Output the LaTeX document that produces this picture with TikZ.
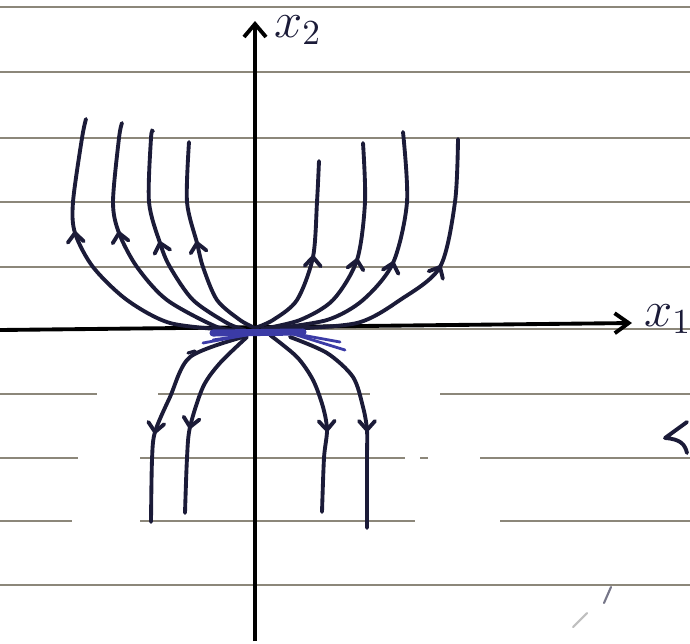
\documentclass[tikz,border=0pt]{standalone}
\usepackage{amsmath,amssymb}
\usepackage{tikz}
\usetikzlibrary{arrows.meta}

\definecolor{tinta}{HTML}{1B1B38}
\definecolor{azul}{HTML}{3B3BA6}
\definecolor{pauta}{HTML}{8C877A}

\begin{document}
\begin{tikzpicture}[
  curva/.style={tinta,line width=1.1pt,line cap=round},
  seta/.style={tinta,line width=1.1pt,line cap=round,line join=round},
  linha/.style={pauta,line width=0.7pt},
  eixo/.style={black,line width=1.1pt}
]
\useasboundingbox (-2.55,-3.14) rectangle (4.35,3.29);
\fill[white] (-2.55,-3.14) rectangle (4.35,3.29);

% pauta do caderno
\foreach \y in {3.22,2.57,1.91,1.27,0.62,0.0,-2.56}
{
    \draw[linha] (-2.55,\y) -- (4.35,\y);
}

% pauta interrompida (parte de baixo)
\draw[linha] (-2.55,-0.65) -- (-1.58,-0.65) (-0.97,-0.65) -- (1.15,-0.65) (1.85,-0.65) -- (4.35,-0.65);
\draw[linha] (-2.55,-1.29) -- (-1.77,-1.29) (-1.15,-1.29) -- (1.50,-1.29) (1.65,-1.29) -- (1.73,-1.29) (2.25,-1.29) -- (4.35,-1.29);
\draw[linha] (-2.55,-1.92) -- (-1.83,-1.92) (-1.15,-1.92) -- (1.60,-1.92) (2.45,-1.92) -- (4.35,-1.92);

% eixos
\draw[eixo,-{Straight Barb[length=1.3mm,width=2.2mm]}] (0,-3.12) -- (0,3.08);
\draw[eixo,-{Straight Barb[length=1.4mm,width=2mm]}] (-2.55,-0.01) -- (3.77,0.06);
\node[tinta] (lx2) at (0.43,2.99) {\Large $x_2$};
\node[tinta] (lx1) at (4.13,0.10) {\Large $x_1$};

% trajetorias de cima, lado esquerdo
\draw[curva] plot[smooth] coordinates {(-1.69,2.10) (-1.73,1.91) (-1.82,1.27) (-1.80,0.96) (-1.62,0.62) (-1.28,0.29) (-0.85,0.06) (-0.25,-0.01)};
\draw[curva] plot[smooth] coordinates {(-1.33,2.06) (-1.36,1.91) (-1.42,1.27) (-1.36,0.96) (-1.18,0.62) (-0.88,0.29) (-0.38,0.02) (-0.15,-0.01)};
\draw[curva] plot[smooth] coordinates {(-1.02,1.98) (-1.04,1.91) (-1.06,1.27) (-0.95,0.86) (-0.85,0.62) (-0.62,0.29) (-0.28,0.06) (-0.10,-0.01)};
\draw[curva] plot[smooth] coordinates {(-0.66,1.87) (-0.68,1.27) (-0.58,0.86) (-0.52,0.62) (-0.38,0.29) (-0.15,0.09) (0,0.01)};

% trajetorias de cima, lado direito
\draw[curva] plot[smooth] coordinates {(0.64,1.68) (0.62,1.27) (0.58,0.72) (0.42,0.29) (0.18,0.09) (0,0.01)};
\draw[curva] plot[smooth] coordinates {(1.08,1.86) (1.10,1.27) (1.02,0.69) (0.78,0.29) (0.45,0.09) (0.07,0)};
\draw[curva] plot[smooth] coordinates {(1.48,1.97) (1.52,1.27) (1.38,0.66) (1.08,0.29) (0.72,0.09) (0.15,0)};
\draw[curva] plot[smooth] coordinates {(2.03,1.90) (2.00,1.27) (1.85,0.62) (1.45,0.29) (1.02,0.06) (0.30,0)};

% trajetorias de baixo
\draw[curva] plot[smooth] coordinates {(-0.12,-0.08) (-0.65,-0.28) (-0.85,-0.68) (-1.00,-1.03) (-1.03,-1.31) (-1.04,-1.93)};
\draw[curva] plot[smooth] coordinates {(-0.08,-0.08) (-0.35,-0.34) (-0.52,-0.58) (-0.65,-0.98) (-0.68,-1.29) (-0.70,-1.84)};
\draw[curva] plot[smooth] coordinates {(0.15,-0.06) (0.42,-0.28) (0.58,-0.51) (0.68,-0.78) (0.72,-1.01) (0.69,-1.29) (0.67,-1.83)};
\draw[curva] plot[smooth] coordinates {(0.35,-0.08) (0.72,-0.24) (0.98,-0.48) (1.08,-0.78) (1.12,-1.01) (1.12,-1.29) (1.12,-1.99)};

% setas nas trajetorias
\foreach \x/\y/\a in {-1.80/0.96/95,-1.36/0.96/100,-0.95/0.86/105,-0.58/0.86/100,
                      0.58/0.72/88,1.02/0.69/80,1.38/0.66/75,1.85/0.62/62,
                      -1.00/-1.03/262,-0.65/-0.98/260,0.72/-1.01/272,1.12/-1.01/270}
{
    \draw[seta,shift={(\x,\y)},rotate=\a] (-0.09,0.08) -- (0,0) -- (-0.09,-0.08);
}

% tinta azul perto da origem
\draw[azul,line width=2pt,line cap=round] (-0.42,-0.04) -- (0.48,-0.03);
\draw[azul,line width=0.8pt,line cap=round] (-0.52,-0.14) -- (0.02,-0.04);
\draw[azul,line width=0.8pt,line cap=round] (-0.42,-0.11) -- (0.10,-0.03);
\draw[azul,line width=0.8pt,line cap=round] (0.35,-0.04) -- (0.90,-0.21);
\draw[azul,line width=0.8pt,line cap=round] (0.30,-0.03) -- (0.85,-0.13);
\draw[tinta,line width=0.9pt,line cap=round] (-0.67,-0.24) -- (-0.60,-0.22);

% rabiscos soltos
\draw[seta] (4.32,-0.93) -- (4.10,-1.09) .. controls (4.25,-1.10) and (4.30,-1.15) .. (4.32,-1.24);
\draw[tinta!60,line width=0.6pt,line cap=round] (3.49,-2.74) -- (3.56,-2.58);
\draw[gray!50,line width=0.6pt,line cap=round] (3.18,-2.98) -- (3.32,-2.84);
\end{tikzpicture}
\end{document}
